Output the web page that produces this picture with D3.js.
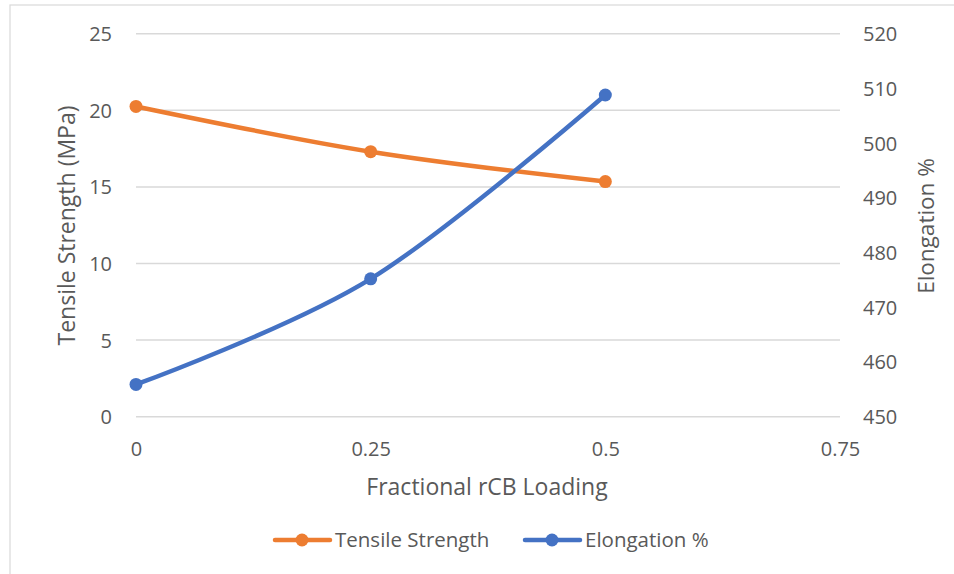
<!DOCTYPE html>
<html>
<head>
<meta charset="utf-8">
<script src="https://cdn.jsdelivr.net/npm/d3@7"></script>
<style>
  html, body { margin: 0; padding: 0; background: #ffffff; }
  svg { display: block; }
  text { font-family: "Open Sans", "Noto Sans", sans-serif; fill: #595959; }
</style>
</head>
<body>
<div id="chart"></div>
<script>
// Fractional rCB loading vs. tensile strength and elongation
const loading = [0, 0.25, 0.5];
const tensileStrength = [20.25, 17.3, 15.35];   // MPa, left axis
const elongation = [455.9, 475.2, 508.8];       // %, right axis
const xTicks = [0, 0.25, 0.5, 0.75];
const leftTicks = [0, 5, 10, 15, 20, 25];
const rightTicks = [450, 460, 470, 480, 490, 500, 510, 520];
const seriesNames = ["Tensile Strength", "Elongation %"];
const seriesColors = ["#ED7D31", "#4472C4"];

const W = 954, H = 574;
const plot = { left: 136, right: 840, top: 33.7, bottom: 416.7 };

const svg = d3.select("#chart").append("svg")
  .attr("width", W).attr("height", H);

// chart frame
svg.append("rect")
  .attr("x", 10).attr("y", 5)
  .attr("width", W + 20).attr("height", H + 20)
  .attr("fill", "#fff").attr("stroke", "#d9d9d9").attr("stroke-width", 1.2);

const x = d3.scaleLinear().domain([0, 0.75]).range([plot.left, plot.right]);
const yL = d3.scaleLinear().domain([0, 25]).range([plot.bottom, plot.top]);
const yR = d3.scaleLinear().domain([450, 520]).range([plot.bottom, plot.top]);

// horizontal gridlines
svg.append("g")
  .selectAll("line").data(leftTicks).join("line")
  .attr("x1", plot.left).attr("x2", plot.right)
  .attr("y1", d => yL(d)).attr("y2", d => yL(d))
  .attr("stroke", "#d9d9d9").attr("stroke-width", 1.5);

const tickFont = "20px";

// left axis
const leftAxis = svg.append("g")
  .attr("transform", `translate(${plot.left - 24},0)`)
  .call(d3.axisLeft(yL).tickValues(leftTicks).tickSize(0).tickPadding(0).tickFormat(d3.format("d")));
leftAxis.select(".domain").remove();
leftAxis.selectAll("text").style("font-size", tickFont).attr("fill", "#595959").attr("dy", "0.35em");

// right axis
const rightAxis = svg.append("g")
  .attr("transform", `translate(${plot.right + 23},0)`)
  .call(d3.axisRight(yR).tickValues(rightTicks).tickSize(0).tickPadding(0).tickFormat(d3.format("d")));
rightAxis.select(".domain").remove();
rightAxis.selectAll("text").style("font-size", tickFont).attr("fill", "#595959").attr("dy", "0.35em");

// bottom axis
const bottomAxis = svg.append("g")
  .attr("transform", `translate(0,${plot.bottom + 32})`)
  .call(d3.axisBottom(x).tickValues(xTicks).tickSize(0).tickPadding(0).tickFormat(d => String(d)));
bottomAxis.select(".domain").remove();
bottomAxis.selectAll("text").style("font-size", tickFont).attr("fill", "#595959").attr("dy", "0.35em");

// axis titles
svg.append("text")
  .attr("transform", "translate(487,487)")
  .attr("text-anchor", "middle").attr("dy", "0.35em")
  .style("font-size", "23px")
  .text("Fractional rCB Loading");

svg.append("text")
  .attr("transform", "translate(67,225.5) rotate(-90)")
  .attr("text-anchor", "middle").attr("dy", "0.35em")
  .style("font-size", "23px")
  .text("Tensile Strength (MPa)");

svg.append("text")
  .attr("transform", "translate(926,226) rotate(-90)")
  .attr("text-anchor", "middle").attr("dy", "0.35em")
  .style("font-size", "22.5px")
  .text("Elongation %");

// smoothed series lines (Excel-style smoothing ~ Catmull-Rom uniform)
const curve = d3.curveCardinal.tension(0);
const series = [
  { name: seriesNames[0], color: seriesColors[0], values: tensileStrength, y: yL },
  { name: seriesNames[1], color: seriesColors[1], values: elongation, y: yR }
];

series.forEach(s => {
  const pts = loading.map((l, i) => [l, s.values[i]]);
  const line = d3.line().x(d => x(d[0])).y(d => s.y(d[1])).curve(curve);
  const g = svg.append("g");
  g.append("path")
    .attr("d", line(pts))
    .attr("fill", "none").attr("stroke", s.color)
    .attr("stroke-width", 4.5).attr("stroke-linecap", "round").attr("stroke-linejoin", "round");
  g.selectAll("circle").data(pts).join("circle")
    .attr("cx", d => x(d[0])).attr("cy", d => s.y(d[1]))
    .attr("r", 6.5).attr("fill", s.color);
});

// legend
const legendY = 540;
const legendItems = [
  { x0: 275, name: seriesNames[0], color: seriesColors[0] },
  { x0: 525, name: seriesNames[1], color: seriesColors[1] }
];
const lg = svg.append("g");
legendItems.forEach(it => {
  lg.append("line")
    .attr("x1", it.x0).attr("x2", it.x0 + 55)
    .attr("y1", legendY).attr("y2", legendY)
    .attr("stroke", it.color).attr("stroke-width", 4.5).attr("stroke-linecap", "round");
  lg.append("circle")
    .attr("cx", it.x0 + 27).attr("cy", legendY).attr("r", 6.5).attr("fill", it.color);
  lg.append("text")
    .attr("x", it.x0 + 60).attr("y", legendY).attr("dy", "0.35em")
    .style("font-size", "20.5px")
    .text(it.name);
});
</script>
</body>
</html>
